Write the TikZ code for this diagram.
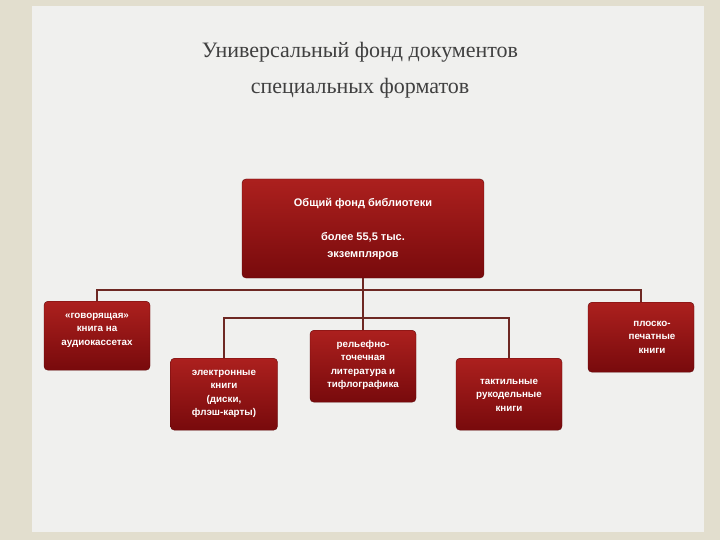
\documentclass[tikz,border=0pt]{standalone}
\usepackage{fontspec}
\setmainfont{Liberation Serif}
\setsansfont{Liberation Sans}
\begin{document}
\begin{tikzpicture}[x=1pt,y=-1pt,
  box/.style={rounded corners=4pt, top color=boxtop, bottom color=boxbot, draw=boxbot!80!black, line width=0.4pt, inner sep=0pt},
  lbl/.style={text=white, font=\sffamily\bfseries\fontsize{9.8}{13.5}\selectfont, align=center},
  conn/.style={draw=linec, line width=2pt}]
\definecolor{boxtop}{RGB}{172,32,30}
\definecolor{boxbot}{RGB}{120,10,12}
\definecolor{linec}{RGB}{110,40,35}
\definecolor{bgout}{RGB}{226,222,206}
\definecolor{bgin}{RGB}{240,240,238}
\useasboundingbox (0,0) rectangle (720,540);
\fill[bgout] (0,0) rectangle (720,540);
\fill[bgin] (32,6) rectangle (704,532);
\node[text=black!75, font=\fontsize{22}{36}\selectfont, align=center] (title) at (360,70) {Универсальный фонд документов\\специальных форматов};
% boxes
\node[box, minimum width=242pt, minimum height=99pt] (top) at (363,228.5) {};
\node[lbl, font=\sffamily\bfseries\fontsize{11}{13}\selectfont] (t1) at (363,204) {Общий фонд библиотеки};
\node[lbl, font=\sffamily\bfseries\fontsize{11}{17}\selectfont] (t2) at (363,246) {более 55,5 тыс.\\экземпляров};
\node[box, minimum width=106pt, minimum height=69pt, anchor=north] (a) at (97,301) {};
\node[lbl] (at) at (97,330) {«говорящая»\\книга на\\аудиокассетах};
\node[box, minimum width=106pt, minimum height=70pt, anchor=north] (e) at (641,302) {};
\node[lbl] (et) at (652,337) {плоско-\\печатные\\книги};
\node[box, minimum width=107pt, minimum height=72pt, anchor=north] (b) at (224,358) {};
\node[lbl] (bt) at (224,394) {электронные\\книги\\(диски,\\флэш-карты)};
\node[box, minimum width=106pt, minimum height=72pt, anchor=north] (c) at (363,330) {};
\node[lbl] (ct) at (363,365) {рельефно-\\точечная\\литература и\\тифлографика};
\node[box, minimum width=106pt, minimum height=72pt, anchor=north] (d) at (509,358) {};
\node[lbl] (dt) at (509,395) {тактильные\\рукодельные\\книги};
% connectors
\coordinate (h1l) at (97,290);
\coordinate (h1r) at (641,290);
\coordinate (h2l) at (224,318);
\coordinate (h2r) at (509,318);
\draw[conn] (top.south) -- (c.north);
\draw[conn] (a.north) -- (h1l) -- (h1r) -- (e.north);
\draw[conn] (b.north) -- (h2l) -- (h2r) -- (d.north);
\end{tikzpicture}
\end{document}
